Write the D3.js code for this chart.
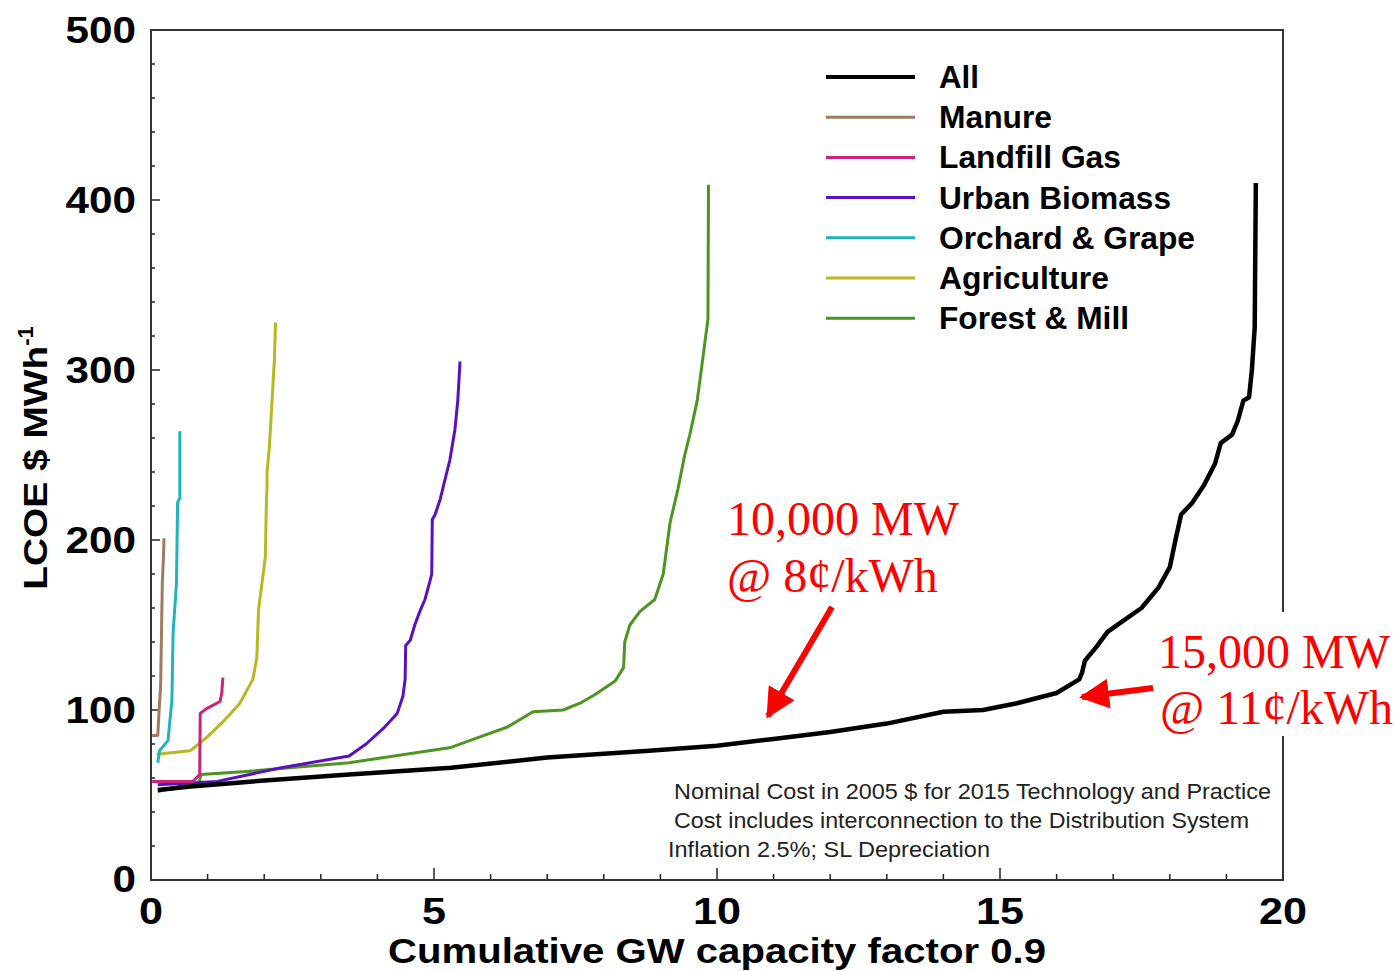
<!DOCTYPE html>
<html>
<head>
<meta charset="utf-8">
<script src="https://cdn.jsdelivr.net/npm/d3@7"></script>
<style>
body{margin:0;background:#fff;}
svg text{font-family:"Liberation Sans",Arial,sans-serif;}
</style>
</head>
<body>
<svg id="chart" width="1396" height="971"></svg>
<script>
// series data: [GW, $/MWh]
var allData=[[0.12,53],[0.7,55],[1.8,58],[3.5,62],[5.3,66],[7,72],[8.8,76],[10,79],[11,83],[12,87],[13,92],[14,99],[14.7,100],[15.3,104],[16,110],[16.4,118],[16.45,122],[16.5,129],[16.7,137],[16.9,146],[17.2,153],[17.5,160],[17.8,172],[18.0,184],[18.1,200],[18.2,215],[18.4,222],[18.6,232],[18.8,245],[18.9,257],[19.1,262],[19.2,270],[19.3,282],[19.4,284],[19.45,300],[19.5,325],[19.52,410]]
var manure=[[0.02,85],[0.12,85],[0.14,98],[0.17,114],[0.2,175],[0.22,190],[0.23,201]]
var landfill=[[0.02,58],[0.74,58],[0.86,62],[0.87,98],[0.99,101],[1.22,105],[1.25,110],[1.27,119]]
var urban=[[0.12,56],[0.7,57],[1.17,58],[2.3,66],[3.5,73],[3.8,80],[4.1,89],[4.35,98],[4.45,108],[4.49,118],[4.5,138],[4.58,141],[4.66,150],[4.75,158],[4.84,165],[4.93,176],[4.96,180],[4.97,212],[5.02,215],[5.11,224],[5.19,235],[5.28,247],[5.37,265],[5.42,282],[5.46,305]]
var orchard=[[0.12,69],[0.15,76],[0.3,82],[0.37,106],[0.39,145],[0.45,175],[0.47,222],[0.51,225],[0.51,264]]
var agriculture=[[0.1,74],[0.69,76],[0.99,84],[1.27,93],[1.57,104],[1.8,118],[1.87,131],[1.9,159],[2.02,190],[2.04,224],[2.05,231],[2.05,240],[2.09,254],[2.12,271],[2.18,306],[2.2,328]]
var forest=[[0.12,52],[0.5,55],[0.85,57],[0.88,62],[1.75,64],[3.5,69],[5.3,78],[5.8,84],[6.3,90],[6.75,99],[7.28,100],[7.58,104],[7.84,109],[8.2,117],[8.35,125],[8.37,140],[8.46,150],[8.64,158],[8.9,165],[9.05,180],[9.17,210],[9.31,230],[9.43,250],[9.52,262],[9.65,282],[9.77,312],[9.84,330],[9.85,409]]

var seriesNames=["All","Manure","Landfill Gas","Urban Biomass","Orchard & Grape","Agriculture","Forest & Mill"]
var seriesColors=["#000000","#a07a60","#cc2277","#5a10c0","#20b4bc","#b8b820","#4e9420"]
var seriesData=[allData,manure,landfill,urban,orchard,agriculture,forest]

var xTicks=[0,5,10,15,20]
var yTicks=[0,100,200,300,400,500]
var notes=["Nominal Cost in 2005 $ for 2015 Technology and Practice","Cost includes interconnection to the Distribution System","Inflation 2.5%; SL Depreciation"]

var svg=d3.select("#chart")
var x=d3.scaleLinear().domain([0,20]).range([151,1283])
var y=d3.scaleLinear().domain([0,500]).range([880,30])

// minor ticks, inside
var minorX=d3.range(1,20)
svg.selectAll(".mx").data(minorX).enter().append("line")
 .attr("x1",d=>x(d)).attr("x2",d=>x(d))
 .attr("y1",880).attr("y2",d=>d%5==0?868:874)
 .attr("stroke","#222").attr("stroke-width",1.5)
var minorY=d3.range(20,500,20)
svg.selectAll(".my").data(minorY).enter().append("line")
 .attr("y1",d=>y(d)).attr("y2",d=>y(d))
 .attr("x1",151).attr("x2",d=>d%100==0?160:155)
 .attr("stroke","#222").attr("stroke-width",1.5)

// frame
svg.append("rect").attr("x",151).attr("y",30).attr("width",1132).attr("height",850)
 .attr("fill","none").attr("stroke","#333").attr("stroke-width",2)

// tick labels
svg.selectAll(".xl").data(xTicks).enter().append("text")
 .attr("x",d=>x(d)).attr("y",924).attr("text-anchor","middle")
 .attr("font-size",37).attr("font-weight","bold")
 .attr("textLength",d=>String(d).length*24).attr("lengthAdjust","spacingAndGlyphs").text(d=>d)
svg.selectAll(".yl").data(yTicks).enter().append("text")
 .attr("x",136).attr("y",d=>y(d)+(d==0?12:13)).attr("text-anchor","end")
 .attr("font-size",37).attr("font-weight","bold")
 .attr("textLength",d=>String(d).length*23.5).attr("lengthAdjust","spacingAndGlyphs").text(d=>d)

// axis titles
svg.append("text").attr("x",717).attr("y",963).attr("text-anchor","middle")
 .attr("font-size",35).attr("font-weight","bold")
 .attr("textLength",658).attr("lengthAdjust","spacingAndGlyphs")
 .text("Cumulative GW capacity factor 0.9")
var yt=svg.append("text").attr("transform","translate(47,458) rotate(-90)")
 .attr("text-anchor","middle").attr("font-size",34).attr("font-weight","bold")
yt.append("tspan").attr("textLength",244).attr("lengthAdjust","spacingAndGlyphs").text("LCOE $ MWh")
yt.append("tspan").attr("dy",-14).attr("font-size",22).text("-1")

// curves
var line=d3.line().x(d=>x(d[0])).y(d=>y(d[1]))
var order=[6,5,4,3,2,1,0]
order.forEach(function(i){
 svg.append("path").datum(seriesData[i]).attr("d",line)
  .attr("fill","none").attr("stroke",seriesColors[i])
  .attr("stroke-width",i==0?4.5:3).attr("stroke-linejoin","round")
})

// legend
var legW=[40,113,182,232,256,170,190]
seriesNames.forEach(function(n,i){
 var ly=77+i*40.2
 svg.append("line").attr("x1",826).attr("x2",915).attr("y1",ly).attr("y2",ly)
  .attr("stroke",seriesColors[i]).attr("stroke-width",i==0?4:3)
 svg.append("text").attr("x",939).attr("y",ly+11).attr("font-size",31)
  .attr("font-weight","bold").attr("textLength",legW[i]).attr("lengthAdjust","spacingAndGlyphs").text(n)
})

// notes
var noteW=[597,575,322]
notes.forEach(function(t,i){
 svg.append("text").attr("x",i==2?668:674).attr("y",799+i*29)
  .attr("font-size",22).attr("fill","#222")
  .attr("textLength",noteW[i]).attr("lengthAdjust","spacingAndGlyphs").text(t)
})

// annotations
svg.append("defs").append("marker").attr("id","arr").attr("viewBox","0 0 10 10")
 .attr("refX",9).attr("refY",5).attr("markerWidth",5).attr("markerHeight",5)
 .attr("orient","auto").attr("markerUnits","strokeWidth")
 .append("path").attr("d","M0,0L10,5L0,10z").attr("fill","#ff0000")
svg.append("rect").attr("x",1150).attr("y",612).attr("width",246).attr("height",124).attr("fill","#fff")
var serif='"Liberation Serif","Times New Roman",serif'
svg.append("text").attr("x",727).attr("y",535).attr("font-size",48).attr("fill","#ff0000")
 .style("font-family",serif).text("10,000 MW")
svg.append("text").attr("x",727).attr("y",592).attr("font-size",48).attr("fill","#ff0000")
 .style("font-family",serif).text("@ 8¢/kWh")
svg.append("text").attr("x",1158).attr("y",668).attr("font-size",48).attr("fill","#ff0000")
 .style("font-family",serif).text("15,000 MW")
svg.append("text").attr("x",1160).attr("y",724).attr("font-size",48).attr("fill","#ff0000")
 .style("font-family",serif).text("@ 11¢/kWh")
svg.append("line").attr("x1",832).attr("y1",607).attr("x2",768).attr("y2",716)
 .attr("stroke","#ff0000").attr("stroke-width",6).attr("marker-end","url(#arr)")
svg.append("line").attr("x1",1153).attr("y1",688).attr("x2",1082).attr("y2",697)
 .attr("stroke","#ff0000").attr("stroke-width",6).attr("marker-end","url(#arr)")
</script>
</body>
</html>
